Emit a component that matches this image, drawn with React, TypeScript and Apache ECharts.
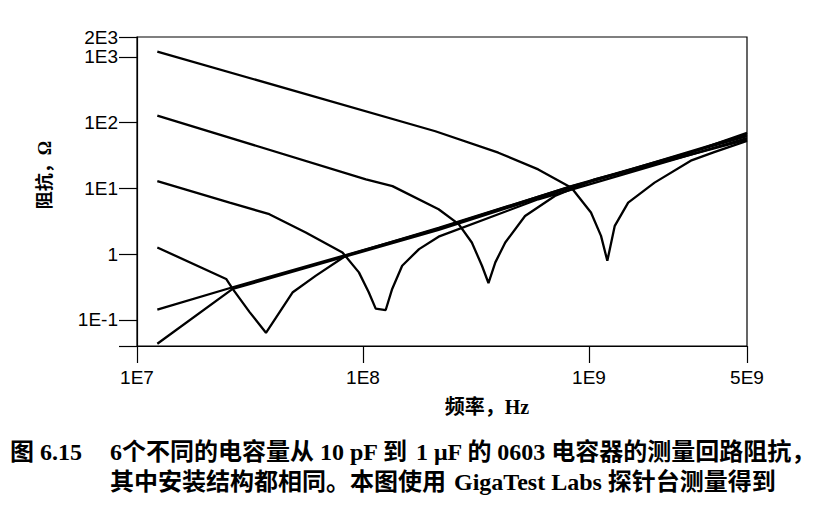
import React, { useEffect, useRef } from "react";
import * as echarts from "echarts";

// Tick labels
const xTickValues = [1e7, 1e8, 1e9, 5e9];
const xTickLabels = ["1E7", "1E8", "1E9", "5E9"];
const yTickValues = [0.1, 1, 10, 100, 1000, 2000];
const yTickLabels = ["1E-1", "1", "1E1", "1E2", "1E3", "2E3"];

// Curves (frequency in Hz, impedance in ohm)
const freqA = [1.23e7, 2.09e8, 3.97e8, 5.96e8, 8.36e8, 1.02e9, 1.13e9, 1.205e9, 1.3e9, 1.49e9, 1.95e9, 2.82e9, 3.58e9, 5e9];
const zA = [1200, 73.8, 34.8, 19.4, 10.2, 4.29, 1.89, 0.79, 2.69, 6.07, 12.2, 26.3, 35.5, 52.5];

const freqB = [1.23e7, 1.03e8, 1.35e8, 2.16e8, 2.65e8, 3.03e8, 3.36e8, 3.59e8, 3.85e8, 4.26e8, 5.21e8, 7.06e8, 1.06e9, 2.31e9, 5e9];
const zB = [127.6, 13.7, 10.8, 4.81, 2.85, 1.5, 0.665, 0.363, 0.748, 1.5, 3.8, 7.66, 13.7, 27.5, 70];

const freqC = [1.23e7, 2.57e7, 3.85e7, 5.58e7, 8.11e7, 9.59e7, 1.06e8, 1.138e8, 1.26e8, 1.346e8, 1.49e8, 1.77e8, 2.16e8, 5.96e8, 5e9];
const zC = [12.9, 6.07, 4.04, 2.13, 1.06, 0.527, 0.263, 0.148, 0.141, 0.295, 0.665, 1.19, 1.84, 6.81, 58];

const freqD = [1.23e7, 2.48e7, 2.65e7, 3.15e7, 3.72e7, 4.89e7, 6.19e7, 8.39e7, 2.16e8, 8.36e8, 5e9];
const zD = [1.26, 0.418, 0.295, 0.131, 0.0635, 0.263, 0.47, 0.944, 2.51, 10.7, 55];

const freqE = [1.23e7, 2.65e7, 8.39e7, 2.16e8, 8.36e8, 5e9];
const zE = [0.143, 0.313, 0.966, 2.45, 10.8, 62];

const freqF = [1.23e7, 2.65e7, 8.39e7, 2.16e8, 8.36e8, 5e9];
const zF = [0.0433, 0.295, 0.92, 2.34, 10.3, 66];

const curves = [
  { name: "10 pF", f: freqA, z: zA },
  { name: "100 pF", f: freqB, z: zB },
  { name: "1 nF", f: freqC, z: zC },
  { name: "10 nF", f: freqD, z: zD },
  { name: "100 nF", f: freqE, z: zE },
  { name: "1 uF", f: freqF, z: zF },
];

const xAxisName = "频率，Hz";
const yAxisName = "阻抗，Ω";
const captionFig = "图 6.15";
const captionLine1a = "6个不同的电容量从 10 pF 到";
const captionLine1b = "1 μF 的 0603 电容器的测量回路阻抗，";
const captionLine2a = "其中安装结构都相同。本图使用";
const captionLine2b = "GigaTest Labs 探针台测量得到";

function lookup(v: number, values: number[], labels: string[]) {
  for (let i = 0; i < values.length; i++) {
    if (Math.abs(v - values[i]) / values[i] < 1e-3) return labels[i];
  }
  return "";
}

const labelFont = "'Liberation Sans', Arial, sans-serif";
const cjkFont = "'Liberation Serif', 'Noto Sans CJK SC', serif";

function captionText(text: string, x: number, y: number) {
  return {
    type: "text",
    x,
    y,
    style: { text, fontSize: 24, fontWeight: "bold", fontFamily: cjkFont, fill: "#000", align: "left", verticalAlign: "middle" },
  };
}

export default function App() {
  const ref = useRef<HTMLDivElement>(null);
  useEffect(() => {
    if (!ref.current) return;
    const chart = echarts.init(ref.current, null, { renderer: "svg" });
    chart.setOption({
      animation: false,
      backgroundColor: "#ffffff",
      grid: { left: 137, right: 83, top: 37, bottom: 167, show: true, borderColor: "#000", borderWidth: 1.2 },
      xAxis: {
        type: "log",
        logBase: 10,
        min: 1e7,
        max: 5e9,
        axisLine: { lineStyle: { color: "#000", width: 1.2 } },
        axisTick: { show: true, inside: false, length: 17, lineStyle: { color: "#000", width: 1.2 } },
        minorTick: { show: false },
        splitLine: { show: false },
        axisLabel: {
          showMinLabel: true,
          showMaxLabel: true,
          margin: 22,
          color: "#000",
          fontSize: 19,
          fontFamily: labelFont,
          formatter: (v: number) => lookup(v, xTickValues, xTickLabels),
        },
      },
      yAxis: {
        type: "log",
        logBase: 10,
        min: 0.04,
        max: 2000,
        axisLine: { lineStyle: { color: "#000", width: 1.2 } },
        axisTick: { show: true, inside: false, length: 18, lineStyle: { color: "#000", width: 1.2 } },
        splitLine: { show: false },
        axisLabel: {
          showMinLabel: true,
          showMaxLabel: true,
          margin: 19,
          color: "#000",
          fontSize: 19,
          fontFamily: labelFont,
          formatter: (v: number) => lookup(v, yTickValues, yTickLabels),
        },
      },
      series: curves.map((c) => ({
        type: "line",
        name: c.name,
        data: c.f.map((f, i) => [f, c.z[i]]),
        showSymbol: false,
        symbol: "none",
        lineStyle: { color: "#000", width: 2.3 },
        clip: true,
      })),
      graphic: [
        {
          type: "text",
          x: 487,
          y: 407,
          style: { text: xAxisName, fontSize: 20, fontWeight: "bold", fontFamily: cjkFont, fill: "#000", align: "center", verticalAlign: "middle" },
        },
        {
          type: "text",
          x: 45,
          y: 175,
          rotation: Math.PI / 2,
          style: { text: yAxisName, fontSize: 18, fontWeight: "bold", fontFamily: cjkFont, fill: "#000", align: "center", verticalAlign: "middle" },
        },
        captionText(captionFig, 10, 452),
        captionText(captionLine1a, 110, 452),
        captionText(captionLine1b, 416, 452),
        captionText(captionLine2a, 110, 482),
        captionText(captionLine2b, 454, 482),
      ],
    });
    return () => chart.dispose();
  }, []);
  return (
    <div
      ref={ref}
      style={{ position: "fixed", left: 0, top: 0, width: 830, height: 513, background: "#fff" }}
    />
  );
}
